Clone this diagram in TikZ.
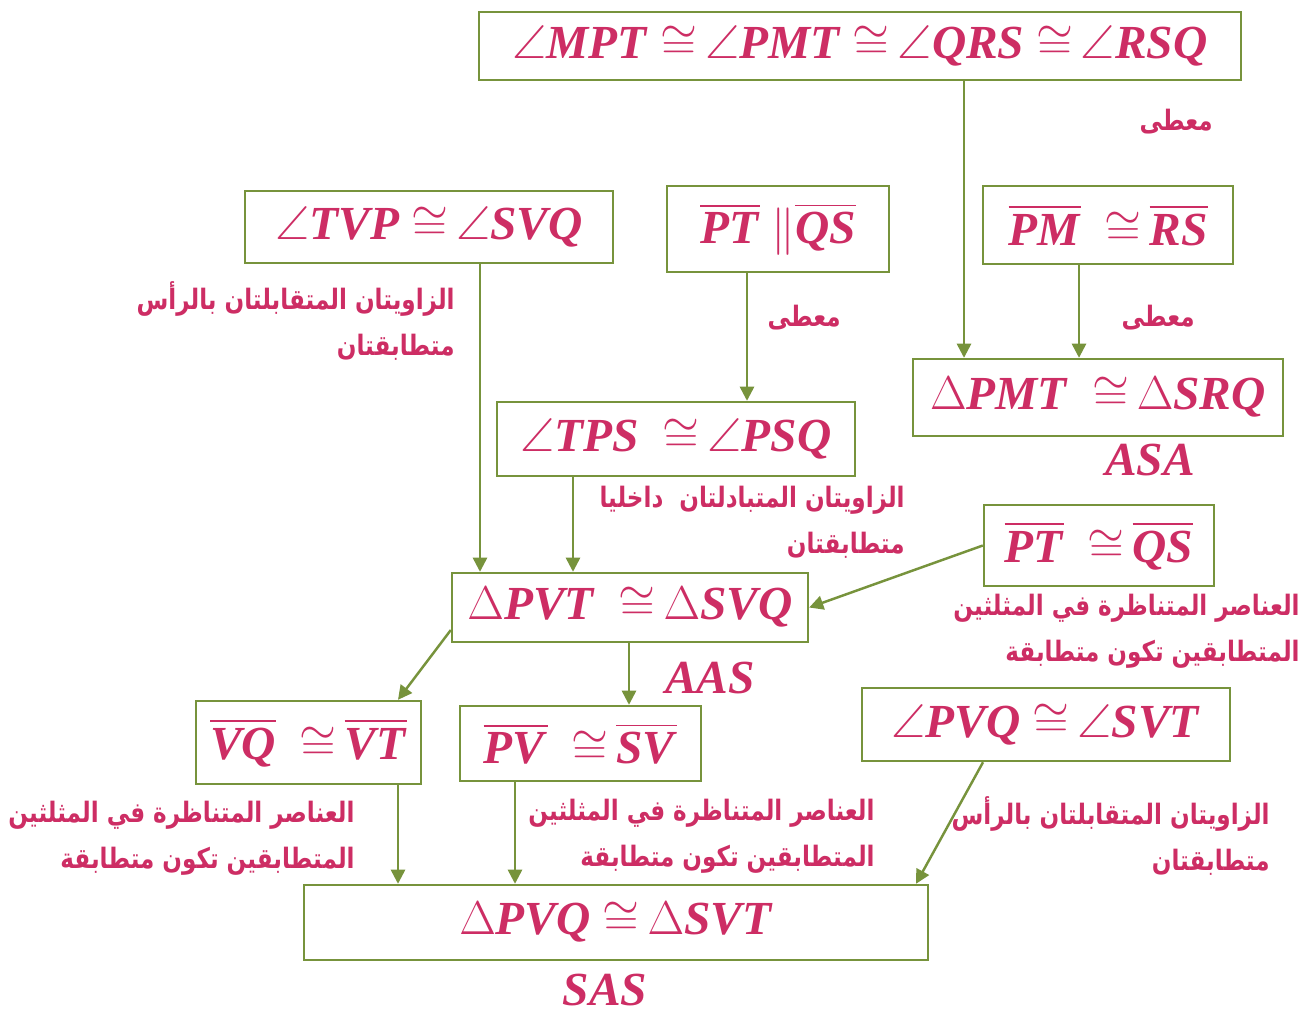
\RequirePackage{fix-cm}
\documentclass[tikz,border=0pt]{standalone}
\usepackage{fontspec}
\usepackage{amsmath,amssymb}
\usepackage{xcolor}
\usetikzlibrary{positioning,arrows.meta,calc}
\setmainfont{Liberation Serif}
\newfontfamily\arabicfont[Script=Arabic,FakeStretch=0.82]{DejaVu Sans}
\TeXXeTstate=1
\definecolor{proofgreen}{RGB}{119,147,60}
\definecolor{proofpink}{RGB}{205,45,100}
\newcommand{\ang}[1]{$\angle$\textbf{\textit{#1}}}
\newcommand{\seg}[1]{$\overline{\hbox{\textbf{\textit{#1}}}}$}
\newcommand{\tri}[1]{$\Delta$\textbf{\textit{#1}}}
\newcommand{\cng}{\ $\cong$\,}

\begin{document}
\begin{tikzpicture}[x=0.02cm, y=-0.02cm]
  \tikzset{
      stmt/.style={draw=proofgreen, line width=1.4pt, fill=white, inner sep=0pt, text=proofpink, font=\fontsize{27}{32}\selectfont},
      note/.style={text=proofpink, align=right, inner sep=0pt, font=\arabicfont\bfseries\fontsize{16}{26}\selectfont},
      crit/.style={text=proofpink, inner sep=0pt, font=\fontsize{27}{32}\selectfont\bfseries\itshape},
      link/.style={draw=proofgreen, line width=1.4pt, -{Triangle[length=8pt,width=8pt]}}
  }
  \useasboundingbox (0,0) rectangle (1311,1012);

  % statements
  \node[stmt, minimum width=15.24cm, minimum height=1.36cm] (given) at (860,46)
      {\ang{MPT}\cng\ang{PMT}\cng\ang{QRS}\cng\ang{RSQ}};
  \node[stmt, minimum width=7.36cm, minimum height=1.44cm] (tvp) at (429,227) {\ang{TVP}\cng\ang{SVQ}};
  \node[stmt, minimum width=4.44cm, minimum height=1.72cm] (par) at (778,229) {\seg{PT}\ $\|$\seg{QS}};
  \node[stmt, minimum width=5.0cm, minimum height=1.56cm] (pmrs) at (1108,225) {\seg{PM}\ \cng\seg{RS}};
  \node[stmt, minimum width=7.4cm, minimum height=1.54cm] (pmt) at (1098,397.5) {\tri{PMT}\ \cng\tri{SRQ}};
  \node[stmt, minimum width=7.16cm, minimum height=1.48cm] (tps) at (676,439) {\ang{TPS}\ \cng\ang{PSQ}};
  \node[stmt, minimum width=4.6cm, minimum height=1.62cm] (ptqs) at (1099,545.5) {\seg{PT}\ \cng\seg{QS}};
  \node[stmt, minimum width=7.12cm, minimum height=1.38cm] (pvt) at (630,607.5) {\tri{PVT}\ \cng\tri{SVQ}};
  \node[stmt, minimum width=4.5cm, minimum height=1.66cm] (vqvt) at (308.5,742.5) {\seg{VQ}\ \cng\seg{VT}};
  \node[stmt, minimum width=4.82cm, minimum height=1.5cm] (pvsv) at (580.5,743.5) {\seg{PV}\ \cng\seg{SV}};
  \node[stmt, minimum width=7.36cm, minimum height=1.46cm] (pvq) at (1046,724.5) {\ang{PVQ}\cng\ang{SVT}};
  \node[stmt, minimum width=12.48cm, minimum height=1.5cm] (final) at (616,922.5) {\tri{PVQ}\cng\tri{SVT}};

  % criteria
  \node[crit] (asa) at (1150,460) {ASA};
  \node[crit] (aas) at (710,678) {AAS};
  \node[crit] (sas) at (605,990) {SAS};

  % reasons
  \node[note, anchor=east] (r1) at (1213,122) {\beginR معطى\endR};
  \node[note, anchor=east] (r2) at (1195,318) {\beginR معطى\endR};
  \node[note, anchor=east] (r3) at (841,318) {\beginR معطى\endR};
  \node[note, anchor=east] (r4) at (455,321) {\beginR الزاويتان المتقابلتان بالرأس\endR\\\beginR متطابقتان\endR};
  \node[note, anchor=east] (r5) at (905,522) {\beginR الزاويتان المتبادلتان\ \ داخليا\endR\\\beginR متطابقتان\endR};
  \node[note, anchor=east] (r6) at (1300,631) {\beginR العناصر المتناظرة في المثلثين\endR\\\beginR المتطابقين تكون متطابقة\endR};
  \node[note, anchor=east] (r7) at (355,838) {\beginR العناصر المتناظرة في المثلثين\endR\\\beginR المتطابقين تكون متطابقة\endR};
  \node[note, anchor=east] (r8) at (875,836) {\beginR العناصر المتناظرة في المثلثين\endR\\\beginR المتطابقين تكون متطابقة\endR};
  \node[note, anchor=east] (r9) at (1270,836) {\beginR الزاويتان المتقابلتان بالرأس\endR\\\beginR متطابقتان\endR};

  % arrows
  \draw[link] (given.south -| 964,0) -- (pmt.north -| 964,0);
  \draw[link] (pmrs.south -| 1079,0) -- (pmt.north -| 1079,0);
  \draw[link] (par.south -| 747,0) -- (tps.north -| 747,0);
  \draw[link] (tvp.south -| 480,0) -- (pvt.north -| 480,0);
  \draw[link] (tps.south -| 573,0) -- (pvt.north -| 573,0);
  \draw[link] (ptqs.west) -- (pvt.east);
  \draw[link] (pvt.west |- 0,630) -- (vqvt.north -| 398,0);
  \draw[link] (pvt.south -| 629,0) -- (pvsv.north -| 629,0);
  \draw[link] (vqvt.south -| 398,0) -- (final.north -| 398,0);
  \draw[link] (pvsv.south -| 515,0) -- (final.north -| 515,0);
  \draw[link] (pvq.south -| 983,0) -- (final.north -| 916,0);
\end{tikzpicture}
\end{document}
